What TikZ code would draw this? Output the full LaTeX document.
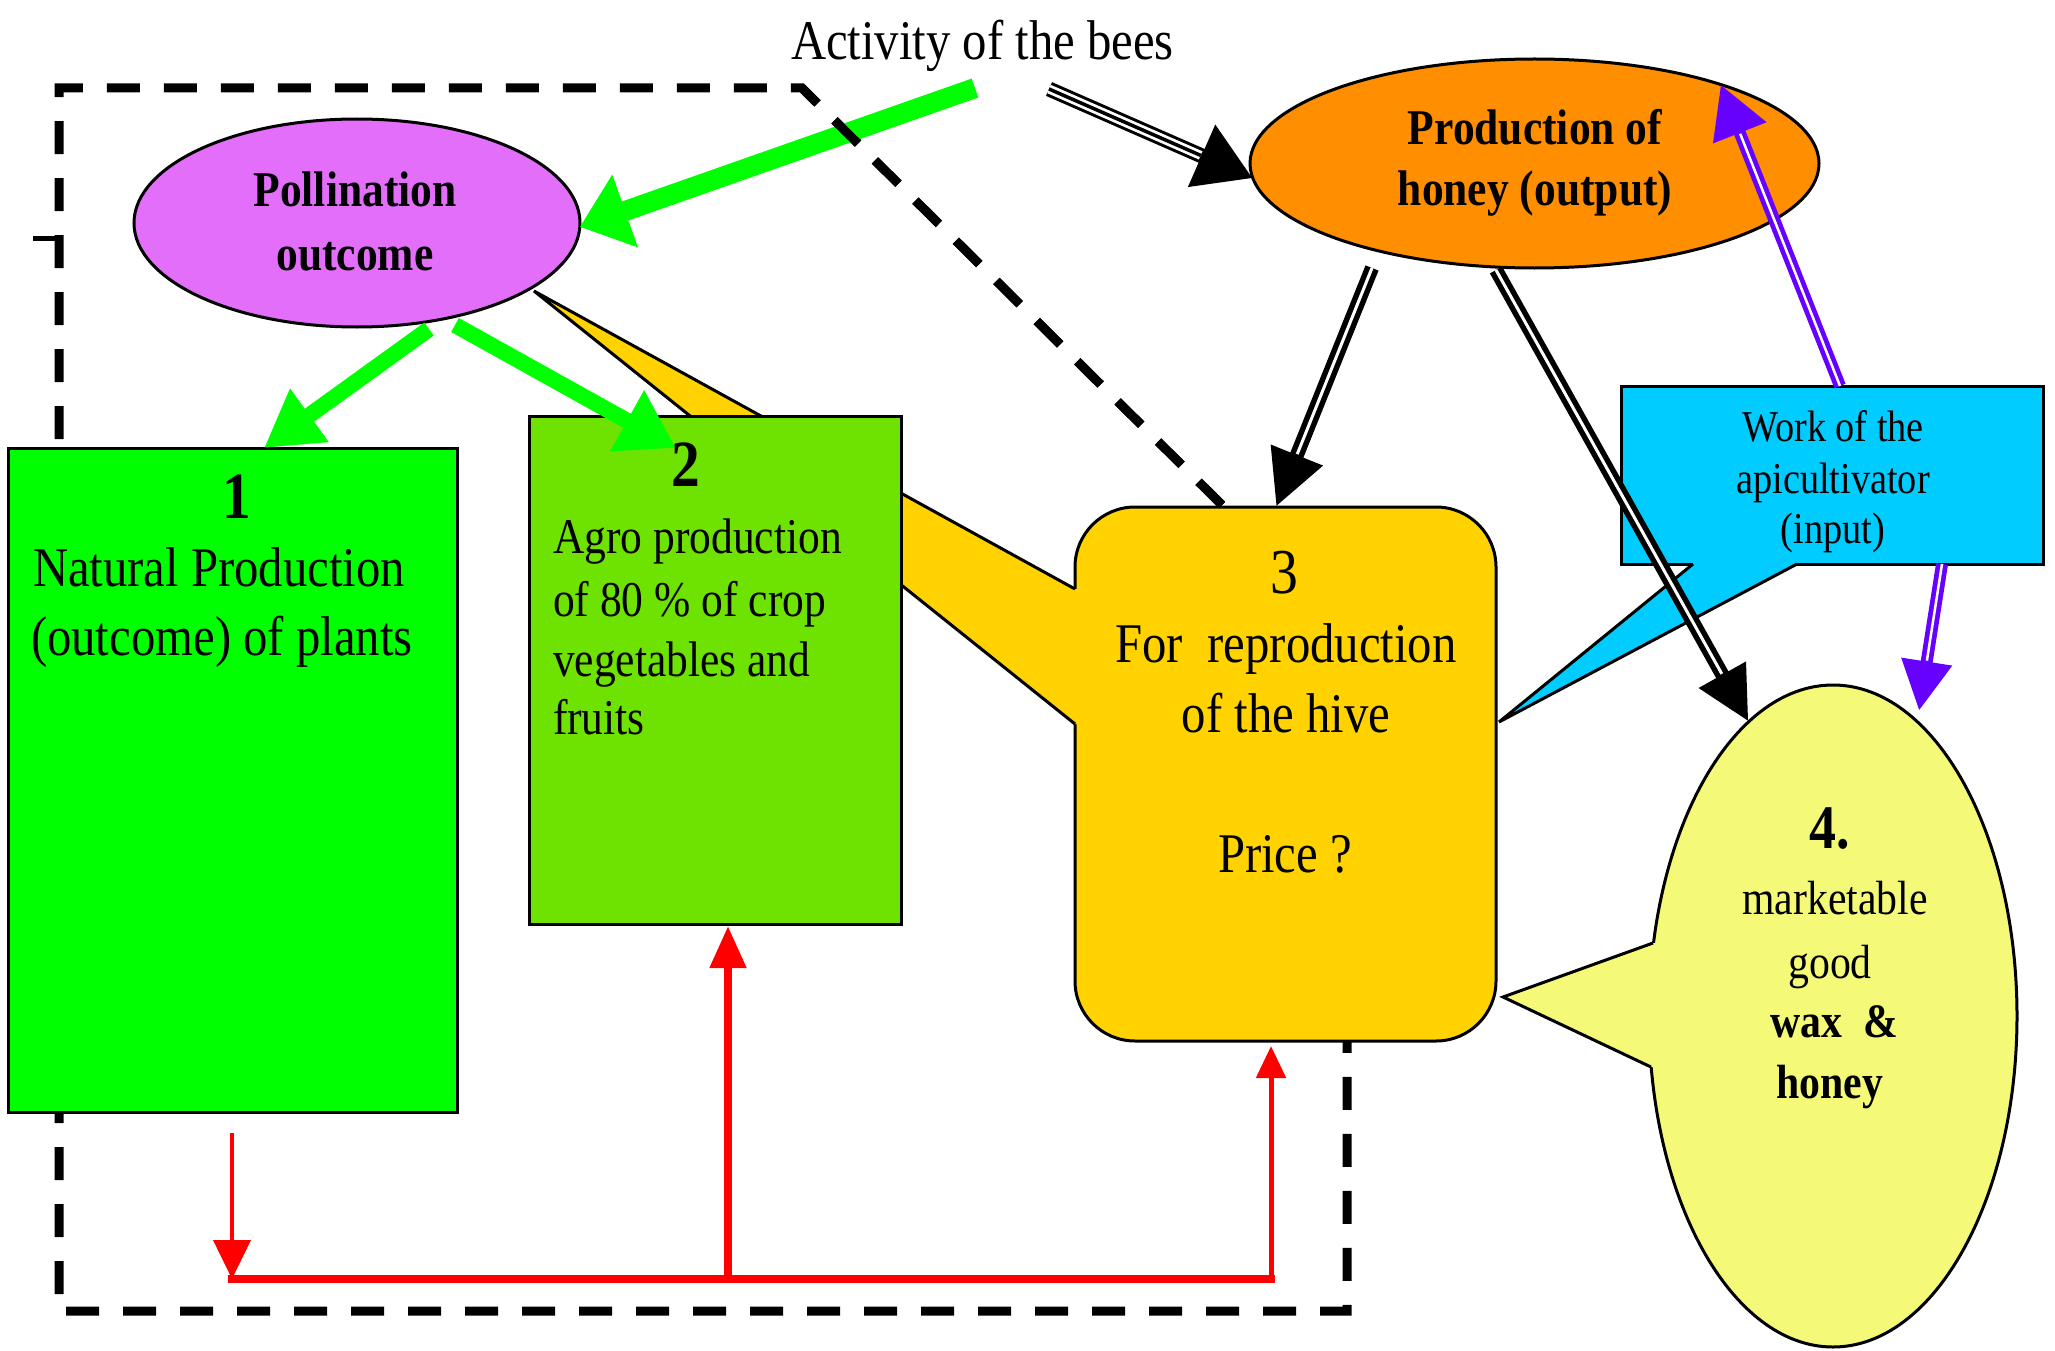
\documentclass[tikz,border=0pt]{standalone}
\usepackage{fontspec}
\setmainfont{Liberation Serif}[FakeStretch=0.87]
\usetikzlibrary{arrows.meta,shapes.geometric,calc}
\definecolor{pollc}{RGB}{227,110,250}
\definecolor{honeyc}{RGB}{255,142,0}
\definecolor{boxa}{RGB}{0,255,0}
\definecolor{boxb}{RGB}{110,226,0}
\definecolor{boxc}{RGB}{255,210,0}
\definecolor{cyanc}{RGB}{0,204,255}
\definecolor{ellc}{RGB}{244,250,120}
\definecolor{greenc}{RGB}{0,255,0}
\definecolor{purplec}{RGB}{102,0,255}
\begin{document}
\begin{tikzpicture}[x=1pt,y=-1pt,
  outline/.style={draw=black,line width=3pt,inner sep=0pt,outer sep=0pt},
  lbl/.style={inner sep=0pt,outer sep=0pt,text=black},
  fL/.style={font=\fontsize{56}{60}\selectfont},
  fM/.style={font=\fontsize{50}{54}\selectfont},
  fB/.style={font=\fontsize{50}{54}\selectfont\bfseries},
  fS/.style={font=\fontsize{44}{48}\selectfont},
  fE/.style={font=\fontsize{48}{52}\selectfont},
  fEB/.style={font=\fontsize{48}{52}\selectfont\bfseries},
  fN/.style={font=\fontsize{66}{70}\selectfont\bfseries},
  dashedline/.style={line width=9pt,dash pattern=on 33pt off 24pt},
  ]
\useasboundingbox (0,0) rectangle (2055,1351);

% dashed frame
\coordinate (dA) at (1222,505);
\coordinate (dB) at (802,88);
\coordinate (dC) at (59,88);
\coordinate (dD) at (59,1311);
\coordinate (dE) at (1347,1311);
\coordinate (dF) at (1347,1041);
\draw[dashedline] (dA) -- (dB) -- (dC) -- (dD) -- (dE) -- (dF);
\coordinate (tk1) at (33,238);
\coordinate (tk2) at (59,238);
\draw[line width=5pt] (tk1) -- (tk2);

% box 3 with pointer
\node[outline,fill=boxc,rounded corners=60pt,minimum width=421pt,minimum height=534pt,anchor=north west] (b3) at (1075,507) {};
\coordinate (p3T) at (534,291);
\coordinate (p3A) at (1075,589);
\coordinate (p3B) at (1075,724);
\fill[boxc] (p3T) -- (p3A) -- (1083,589) -- (1083,724) -- (p3B) -- cycle;
\draw[line width=3pt] (p3A) -- (p3T) -- (p3B);

% boxes 2 and 1
\node[outline,fill=boxb,minimum width=372pt,minimum height=508pt,anchor=north west] (b2) at (529,416) {};
\node[outline,fill=boxa,minimum width=449pt,minimum height=664pt,anchor=north west] (b1) at (8,448) {};

% ellipses
\node[outline,ellipse,fill=pollc,minimum width=446pt,minimum height=208pt] (poll) at (357,223) {};
\node[outline,ellipse,fill=honeyc,minimum width=569pt,minimum height=209pt] (honey) at (1534.5,163.5) {};

% ellipse 4 with pointer
\node[outline,ellipse,fill=ellc,minimum width=368pt,minimum height=662pt] (ell) at (1833,1016) {};
\coordinate (p4T) at (1503,997);
\coordinate (p4A) at (1653,943);
\coordinate (p4B) at (1651,1067);
\fill[ellc] (p4T) -- (p4A) -- (1672,943) -- (1672,1067) -- (p4B) -- cycle;
\draw[line width=3pt] (p4A) -- (p4T) -- (p4B);

% cyan box with pointer
\node[outline,fill=cyanc,minimum width=422pt,minimum height=178pt,anchor=north west] (cyan) at (1621,386) {};
\coordinate (pcT) at (1499,722);
\coordinate (pcA) at (1693,564);
\coordinate (pcB) at (1797,564);
\fill[cyanc] (pcT) -- (pcA) -- (1693,556) -- (1797,556) -- (pcB) -- cycle;
\draw[line width=3pt] (pcA) -- (pcT) -- (pcB);

% green arrows
\coordinate (gS) at (975,88);
\coordinate (g1S) at (429,329);
\coordinate (g2S) at (455,325);
\draw[greenc,line width=20pt,-{Triangle[length=48pt,width=74pt]}] (gS) -- (poll.-1);
\draw[greenc,line width=16pt,-{Triangle[length=56pt,width=62pt]}] (g1S) -- ($(b1.north west)+(256,0)$);
\draw[greenc,line width=16pt,-{Triangle[length=56pt,width=66pt]}] (g2S) -- ($(b2.north west)+(147,32)$);

% dashed diagonal over the green arrow
\draw[dashedline] (dA) -- (dB);

% triple black arrow
\coordinate (tS) at (1049,89);
\draw[black,line width=15pt,-{Triangle[length=56pt,width=64pt]}] (tS) -- (honey.183);
\draw[white,line width=9pt,shorten >=57pt] (tS) -- (honey.183);
\draw[black,line width=3.5pt,shorten >=57pt] (tS) -- (honey.183);

% double black arrows
\coordinate (k3S) at (1372,268);
\coordinate (k4S) at (1496,270);
\draw[black,line width=14pt,-{Triangle[length=56pt,width=52pt]}] (k3S) -- ($(b3.north west)+(201,0)$);
\draw[white,line width=3pt,shorten >=57pt] (k3S) -- ($(b3.north west)+(201,0)$);
\draw[black,line width=14pt,-{Triangle[length=54pt,width=50pt]}] (k4S) -- (ell.106);
\draw[white,line width=3pt,shorten >=55pt] (k4S) -- (ell.106);

% purple double arrows
\draw[purplec,line width=12pt,-{Triangle[length=52pt,width=54pt]}] ($(cyan.north west)+(219,0)$) -- (honey.23);
\draw[white,line width=2.5pt,shorten >=53pt] ($(cyan.north west)+(219,0)$) -- (honey.23);
\draw[purplec,line width=12pt,-{Triangle[length=50pt,width=48pt]}] ($(cyan.south west)+(321,0)$) -- ($(ell.north)+(86,26)$);
\draw[white,line width=2.5pt,shorten >=51pt] ($(cyan.south west)+(321,0)$) -- ($(ell.north)+(86,26)$);

% red arrows
\coordinate (r0) at (232,1133);
\coordinate (rL) at (232,1279);
\coordinate (rM) at (728,1279);
\coordinate (rR) at (1271,1279);
\draw[red,line width=4pt,-{Triangle[length=39pt,width=37pt]}] (r0) -- (rL);
\draw[red,line width=8pt,line cap=rect] (rL) -- (rR);
\draw[red,line width=8pt,-{Triangle[length=42pt,width=35pt]}] (rM) -- ($(b2.south west)+(199,2)$);
\draw[red,line width=5pt,-{Triangle[length=32pt,width=29pt]}] (rR) -- ($(b3.south west)+(196,5)$);

% texts
\node[lbl,fL,anchor=base west] (tact) at (791,60) {Activity of the bees};
\node[lbl,fB,anchor=base] (tpa) at (355,207) {Pollination};
\node[lbl,fB,anchor=base] (tpb) at (355,270) {outcome};
\node[lbl,fB,anchor=base] (tha) at (1535,145) {Production of};
\node[lbl,fB,anchor=base] (thb) at (1535,205) {honey (output)};

\node[lbl,fN,anchor=base] (t1n) at (237,518) {1};
\node[lbl,fL,anchor=base west] (t1a) at (33,586) {Natural Production};
\node[lbl,fL,anchor=base west] (t1b) at (31,655) {(outcome) of plants};

\node[lbl,fN,anchor=base] (t2n) at (686,486) {2};
\node[lbl,fM,anchor=base west] (t2a) at (553,553) {Agro production};
\node[lbl,fM,anchor=base west] (t2b) at (553,616) {of 80 \% of crop};
\node[lbl,fM,anchor=base west] (t2c) at (553,676) {vegetables and};
\node[lbl,fM,anchor=base west] (t2d) at (553,734) {fruits};

\node[lbl,font=\fontsize{64}{68}\selectfont,anchor=base] (t3n) at (1284,593) {3};
\node[lbl,fL,anchor=base] (t3a) at (1286,662) {For\ \ reproduction};
\node[lbl,fL,anchor=base] (t3b) at (1286,732) {of the hive};
\node[lbl,fL,anchor=base] (t3c) at (1285,872) {Price ?};

\node[lbl,fS,anchor=base] (tca) at (1833,441) {Work of the};
\node[lbl,fS,anchor=base] (tcb) at (1833,493) {apicultivator};
\node[lbl,fS,anchor=base] (tcc) at (1833,543) {(input)};

\node[lbl,font=\fontsize{62}{66}\selectfont\bfseries,anchor=base] (t4n) at (1830,848) {4.};
\node[lbl,fE,anchor=base] (t4a) at (1835,914) {marketable};
\node[lbl,fE,anchor=base] (t4b) at (1830,978) {good};
\node[lbl,fEB,anchor=base] (t4c) at (1834,1037) {wax\ \ \&};
\node[lbl,fEB,anchor=base] (t4d) at (1830,1098) {honey};
\end{tikzpicture}
\end{document}
